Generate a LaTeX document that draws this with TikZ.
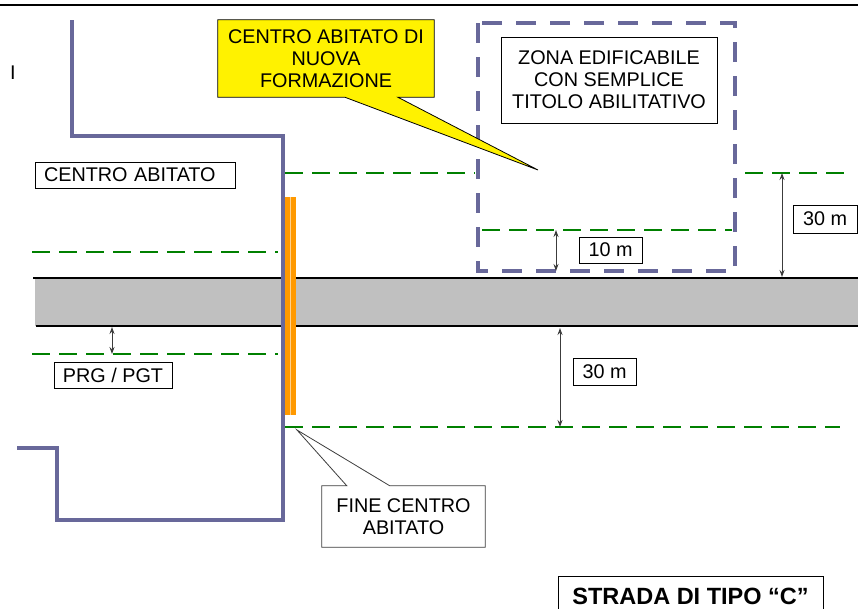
\documentclass[tikz,border=0pt]{standalone}
\usepackage{fontspec}
\setmainfont{Liberation Sans}
\usetikzlibrary{arrows.meta,calc}
\definecolor{zonecol}{RGB}{104,104,154}
\definecolor{limcol}{RGB}{0,128,0}
\definecolor{roadcol}{RGB}{192,192,192}
\definecolor{bandcol}{RGB}{255,153,0}
\definecolor{dimcol}{RGB}{60,60,60}

\begin{document}
\begin{tikzpicture}[x=1pt, y=-1pt, font=\fontsize{19.8}{22}\selectfont]
\tikzstyle{lbl} = [draw=black, fill=white, line width=0.8pt, inner sep=0pt, align=center]
\tikzstyle{lim} = [draw=limcol, line width=2.5pt, dash pattern=on 18pt off 9pt]
\tikzstyle{dim} = [draw=dimcol, line width=1pt, {Stealth[length=7pt,width=5pt]}-{Stealth[length=7pt,width=5pt]}]
\tikzstyle{brd} = [draw=zonecol, line width=4pt]
\tikzstyle{call} = [inner sep=0pt, align=center]

\useasboundingbox (0,0) rectangle (858,608);

% road
\fill[roadcol] (35,278) rectangle (858,326);
\draw[line width=2.5pt] (33,278) -- (858,278);
\draw[line width=2.5pt] (36,326) -- (858,326);
\draw[line width=2.5pt] (0,5) -- (858,5);

% limit lines
\draw[lim] (32,252) -- (278,252);
\draw[lim] (32,354) -- (278,354);
\draw[lim] (285,173) -- (475,173);
\draw[lim] (745,173) -- (845,173);
\draw[lim] (482,230) -- (732,230);
\draw[lim] (285,427) -- (840,427);

% centro abitato border and zone
\draw[brd, line join=miter] (72,20) -- (72,136) -- (283,136) -- (283,520) -- (57,520) -- (57,448) -- (17,448);
\draw[brd, dash pattern=on 20pt off 14pt] (478,23) rectangle (735,271);
\fill[bandcol] (285,197) rectangle (296,415);
\draw[bandcol!45!white, line width=0.5pt] (290.5,197) -- (290.5,415);

% distances
\coordinate (prgA) at (112,327);
\coordinate (prgB) at (112,354);
\coordinate (tenA) at (556,230);
\coordinate (tenB) at (556,271);
\coordinate (thrA) at (782,173);
\coordinate (thrB) at (782,277);
\coordinate (thrC) at (560,328);
\coordinate (thrD) at (560,427);
\draw[dim] (prgA) -- (prgB);
\draw[dim] (tenA) -- (tenB);
\draw[dim] (thrA) -- (thrB);
\draw[dim] (thrC) -- (thrD);

% labels
\node (iletter) at (13,73) {I};
\node[lbl, align=left, inner xsep=9pt, text width=182pt, minimum height=26pt] (ca) at (135,175) {CENTRO ABITATO};
\node[lbl, minimum width=118pt, minimum height=26pt] (prg) at (113,375) {PRG / PGT};
\node[lbl, minimum width=216pt, minimum height=86pt] (zona) at (609,80) {ZONA EDIFICABILE\\CON SEMPLICE\\TITOLO ABILITATIVO};
\node[lbl, minimum width=63pt, minimum height=26pt] (ten) at (610.5,250) {10 m};
\node[lbl, minimum width=64pt, minimum height=28pt] (thrR) at (825,219) {30 m};
\node[lbl, minimum width=63pt, minimum height=27pt] (thrL) at (604.5,371.5) {30 m};
\node[lbl, font=\fontsize{23.5}{26}\selectfont\bfseries, minimum width=265pt, minimum height=40pt] (strada) at (690.5,596) {STRADA DI TIPO “C”};

% callouts
\coordinate (nuovatip) at (538,170);
\coordinate (finetip) at (297,430);
\node[call, minimum width=216pt, minimum height=77pt] (nuova) at (326,58.5) {};
\node[call, minimum width=163pt, minimum height=61pt] (fine) at (403.5,516.5) {};
\filldraw[fill=yellow, draw=black, line width=0.8pt] (nuova.north west) -- (nuova.north east) -- (nuova.south east)
  -- ($(nuova.south west)+(180,0)$) -- (nuovatip) -- ($(nuova.south west)+(127,0)$) -- (nuova.south west) -- cycle;
\filldraw[fill=white, draw=dimcol, line width=0.8pt] (fine.south west) -- (fine.south east) -- (fine.north east)
  -- ($(fine.north west)+(68,0)$) -- (finetip) -- ($(fine.north west)+(25,0)$) -- (fine.north west) -- cycle;
\node[call] at (nuova) {CENTRO ABITATO DI\\NUOVA\\FORMAZIONE};
\node[call] at (fine) {FINE CENTRO\\ABITATO};
\end{tikzpicture}
\end{document}
